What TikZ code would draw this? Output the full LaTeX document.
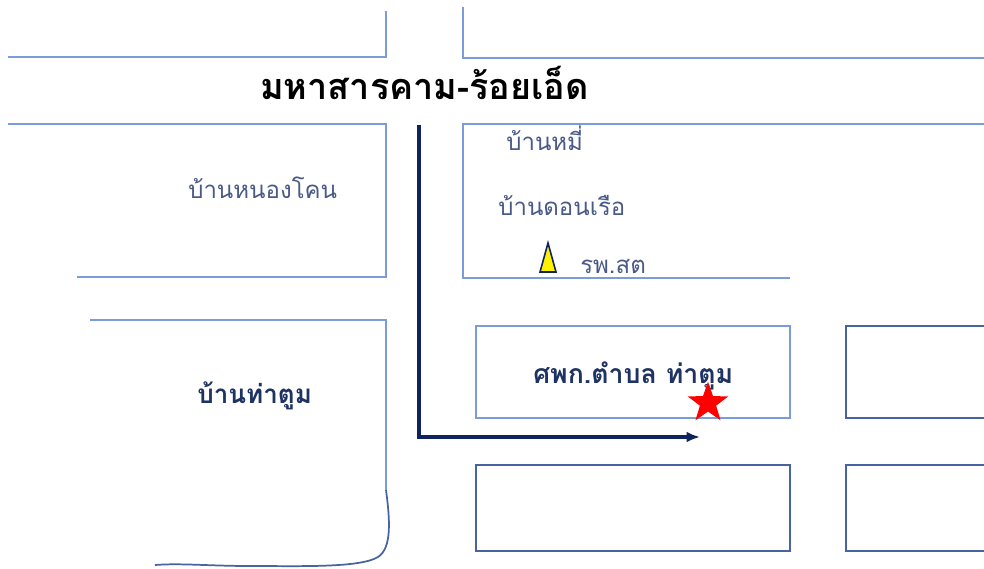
\documentclass[tikz,border=0pt]{standalone}
\usepackage{fontspec}
\newfontfamily\thaifont[Script=Thai]{Loma}
\usetikzlibrary{shapes.geometric,arrows.meta}
\definecolor{roadline}{HTML}{7A9DDA}
\definecolor{boxline}{HTML}{4763A0}
\definecolor{routeblue}{HTML}{0F245E}
\definecolor{labelblue}{HTML}{4A5A87}
\definecolor{boldblue}{HTML}{1E3363}

\begin{document}
\begin{tikzpicture}[x=0.75pt,y=-0.75pt,
	road/.style={roadline,line width=0.8pt},
	block/.style={boxline,line width=1.6pt},
	place/.style={inner sep=0pt,text=labelblue,font=\thaifont\fontsize{18}{21}\selectfont},
	bigplace/.style={inner sep=0pt,text=boldblue,font=\thaifont\bfseries\fontsize{19.5}{23}\selectfont},
	route/.style={routeblue,line width=2.5pt,-{Latex[length=10pt,width=8pt]}}]
\useasboundingbox (0,0) rectangle (984,568);

% main road
\draw [road] (386,11) -- (386,57) -- (8,57);
\draw [road] (463,7) -- (463,58) -- (990,58);
\node[anchor=base west,inner sep=0pt,font=\thaifont\bfseries\fontsize{27}{31}\selectfont] (title) at (260,99) {มหาสารคาม-ร้อยเอ็ด};

\draw [road] (8,124) -- (386,124) -- (386,277) -- (77,277);
\node[place,anchor=base west] (nongkhon) at (188,198) {บ้านหนองโคน};

\draw [road] (990,124) -- (463,124) -- (463,278) -- (790,278);
\node[place,anchor=base west] (banmi) at (506,150) {บ้านหมี่};
\node[place,anchor=base west] (donruea) at (498,215) {บ้านดอนเรือ};
\draw [routeblue,fill=yellow,line width=1.2pt] (540,272) -- (548,243) -- (556,272) -- cycle;
\node[place,anchor=base west] (rpst) at (580,273) {รพ.สต};

\draw [road] (90,320) -- (386,320) -- (386,490);
\draw [boxline,line width=1.3pt] (386,490) .. controls (390,520) and (392,548) .. (378,557)
	.. controls (360,568) and (300,566) .. (250,566) .. controls (210,566) and (180,563) .. (155,565);
\node[bigplace,anchor=base west] (tatum) at (197,403) {บ้านท่าตูม};

\draw [road] (476,326) rectangle (790,418);
\node[bigplace,font=\thaifont\bfseries\fontsize{20}{24}\selectfont,anchor=base west] (center) at (533,383) {ศพก.ตำบล ท่าตูม};
\node[star,star points=5,star point ratio=2.5,fill=red,inner sep=0pt,minimum size=32pt] (mark) at (708,403) {};

\foreach \x/\y/\h in {846/326/92, 476/465/86, 846/465/86}
	{
	\draw [block] (\x,\y) rectangle ++(314,\h);
	}

% way in
\coordinate (start) at (419,125);
\coordinate (corner) at (419,437);
\coordinate (arrive) at (700,437);
\draw [route] (start) -- (corner) -- (arrive);
\end{tikzpicture}
\end{document}
